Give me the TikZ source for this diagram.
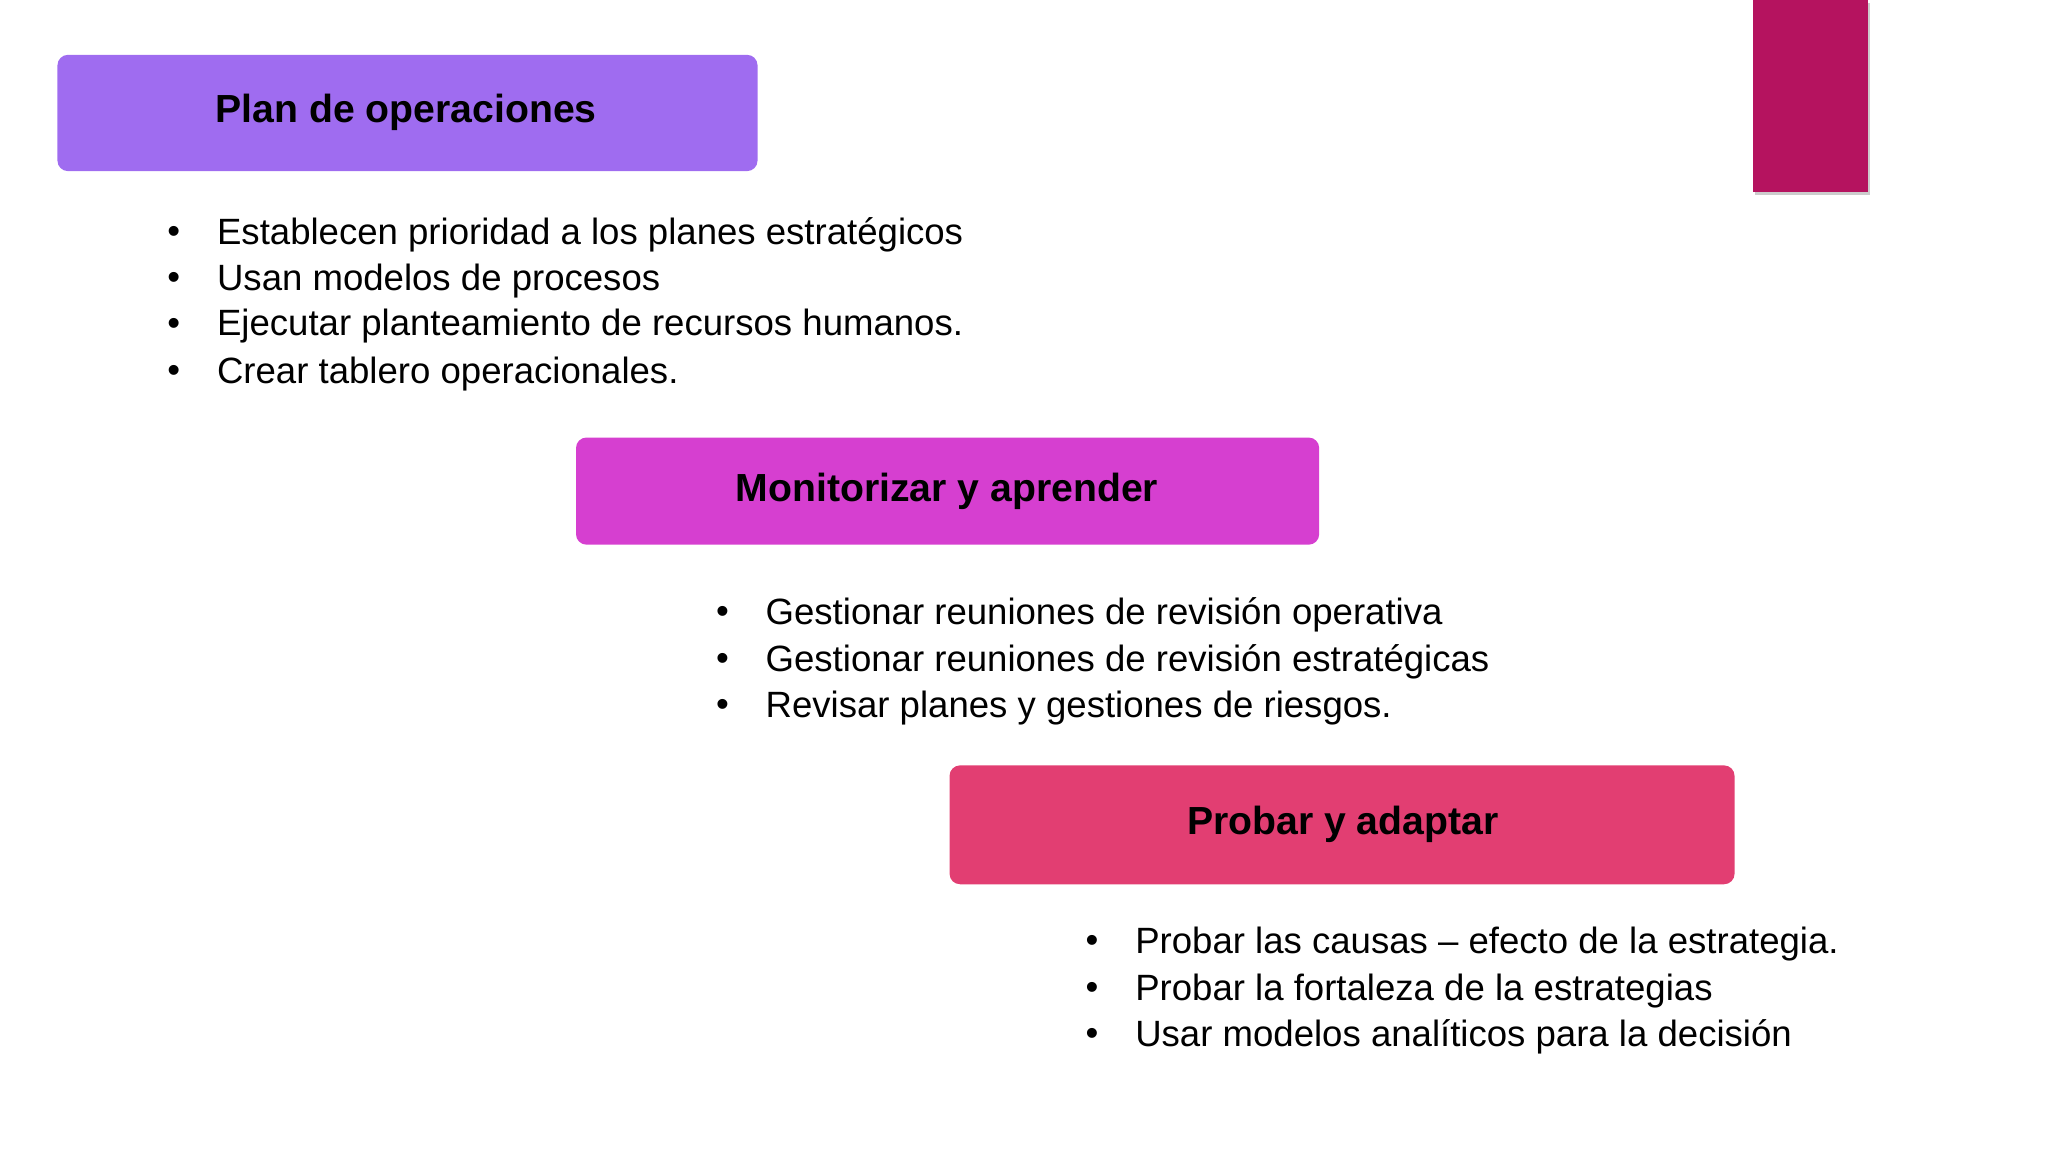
\documentclass[tikz,border=0pt]{standalone}
\usepackage{fontspec}
\setmainfont{Liberation Sans}
\definecolor{cplan}{HTML}{9F6CF0}
\definecolor{cmon}{HTML}{D63FD0}
\definecolor{cprob}{HTML}{E23E72}
\definecolor{cmag}{HTML}{B5135F}
\tikzset{x=1pt,y=-1pt,
 titlebox/.style={rounded corners=8pt,inner sep=0pt},
 ttl/.style={font=\fontsize{30}{36}\selectfont\bfseries,text=black},
 blist/.style={anchor=west,font=\fontsize{28}{35}\selectfont,align=left,inner sep=0pt,text=black}}
\begin{document}
\begin{tikzpicture}
\useasboundingbox (0,0) rectangle (1568,882);
\fill[gray!40] (1344,2) rectangle (1432,149);
\fill[cmag] (1342,0) rectangle (1430,147);
\fill[cplan,titlebox] (44,42) rectangle (580,131);
\node[ttl] (t1) at (311,86) {Plan de operaciones};
\fill[cmon,titlebox] (441,335) rectangle (1010,417);
\node[ttl] (t2) at (725,376) {Monitorizar y aprender};
\fill[cprob,titlebox] (727,586) rectangle (1328,677);
\node[ttl] (t3) at (1028,631) {Probar y adaptar};
\foreach \y/\t in {180/Establecen prioridad a los planes estratégicos,215/Usan modelos de procesos,250/Ejecutar planteamiento de recursos humanos.,286/Crear tablero operacionales.}{
 \node[blist] at (128,\y) {•}; \node[blist] at (166,\y) {\t};}
\foreach \y/\t in {471/Gestionar reuniones de revisión operativa,507/Gestionar reuniones de revisión estratégicas,542/Revisar planes y gestiones de riesgos.}{
 \node[blist] at (548,\y) {•}; \node[blist] at (586,\y) {\t};}
\foreach \y/\t in {723/Probar las causas – efecto de la estrategia.,759/Probar la fortaleza de la estrategias,794/Usar modelos analíticos para la decisión}{
 \node[blist] at (831,\y) {•}; \node[blist] at (869,\y) {\t};}
\end{tikzpicture}
\end{document}
